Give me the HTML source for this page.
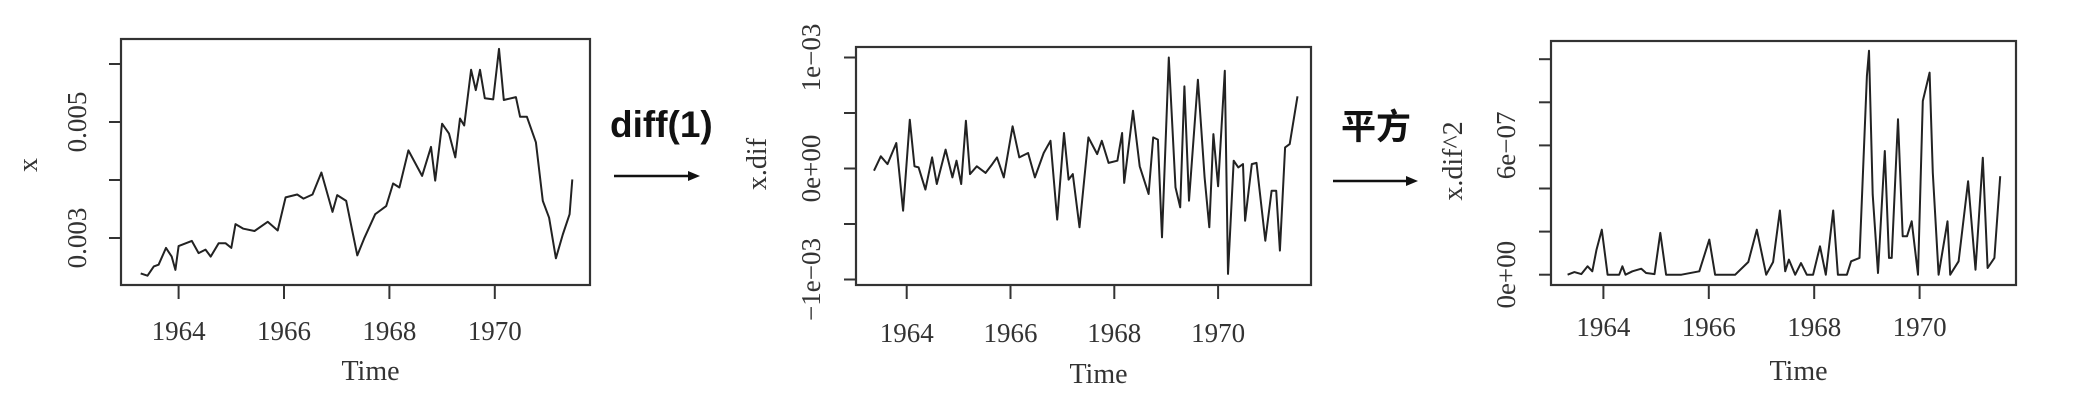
<!DOCTYPE html>
<html><head><meta charset="utf-8"><style>
html,body{margin:0;padding:0;background:#fff;}
svg{display:block;}
.tick{font-family:"Liberation Serif",serif;font-size:27px;fill:#333;}
.ttl{font-family:"Liberation Serif",serif;font-size:28px;fill:#333;}
</style></head><body>
<svg id="svg" width="2078" height="402" viewBox="0 0 2078 402">
<g>
<text x="610" y="137" font-family="'Liberation Sans',sans-serif" font-weight="bold" font-size="37" fill="#111">diff(1)</text>
<line x1="614" y1="176" x2="692" y2="176" stroke="#111" stroke-width="2.5"/>
<polygon points="700,176 688,171 688,181" fill="#111"/>
</g>
<g>
<text x="1341" y="139" font-family="'Liberation Sans','Noto Sans CJK SC',sans-serif" font-weight="bold" font-size="35" fill="#111">平方</text>
<line x1="1333" y1="181" x2="1410" y2="181" stroke="#111" stroke-width="2.5"/>
<polygon points="1418,181 1406,176 1406,186" fill="#111"/>
</g>
</svg>
<script>
// Panel 1: x series
const years1=[1963.28,1963.41,1963.53,1963.62,1963.76,1963.87,1963.94,1964.0,1964.25,1964.38,1964.51,1964.61,1964.76,1964.89,1965.0,1965.08,1965.23,1965.44,1965.69,1965.88,1966.03,1966.25,1966.37,1966.54,1966.71,1966.92,1967.01,1967.18,1967.39,1967.52,1967.73,1967.94,1968.07,1968.19,1968.36,1968.62,1968.79,1968.87,1969.0,1969.13,1969.25,1969.34,1969.42,1969.55,1969.64,1969.72,1969.81,1969.97,1970.08,1970.17,1970.40,1970.48,1970.61,1970.78,1970.91,1971.03,1971.16,1971.29,1971.42,1971.47];
const values1=[2.39,2.35,2.51,2.54,2.83,2.68,2.45,2.86,2.95,2.74,2.80,2.68,2.91,2.91,2.83,3.24,3.16,3.12,3.28,3.13,3.70,3.75,3.68,3.75,4.13,3.45,3.74,3.64,2.70,2.99,3.41,3.55,3.94,3.87,4.51,4.07,4.57,3.99,4.97,4.80,4.39,5.06,4.94,5.90,5.55,5.90,5.41,5.39,6.26,5.38,5.43,5.09,5.09,4.65,3.64,3.35,2.65,3.06,3.41,4.01]; // x 1e-3
const ticks1=[0.003,0.004,0.005,0.006];
const tickLabels1=["0.003","","0.005",""];
// Panel 2: x.dif
const years2=[1963.37,1963.50,1963.63,1963.80,1963.93,1964.06,1964.15,1964.23,1964.36,1964.49,1964.58,1964.75,1964.88,1964.96,1965.05,1965.14,1965.22,1965.35,1965.52,1965.65,1965.74,1965.87,1966.04,1966.17,1966.34,1966.47,1966.64,1966.77,1966.90,1967.03,1967.12,1967.20,1967.33,1967.50,1967.67,1967.76,1967.89,1968.06,1968.15,1968.19,1968.36,1968.49,1968.66,1968.75,1968.84,1968.92,1969.05,1969.18,1969.27,1969.35,1969.44,1969.61,1969.74,1969.83,1969.91,1970.00,1970.13,1970.19,1970.30,1970.39,1970.48,1970.52,1970.65,1970.74,1970.91,1971.03,1971.12,1971.19,1971.29,1971.38,1971.53];
const values2=[-0.02,0.11,0.04,0.23,-0.38,0.44,0.02,0.01,-0.19,0.10,-0.14,0.17,-0.08,0.07,-0.14,0.43,-0.05,0.02,-0.04,0.04,0.10,-0.08,0.38,0.10,0.14,-0.08,0.14,0.25,-0.46,0.32,-0.10,-0.05,-0.53,0.28,0.13,0.25,0.05,0.07,0.32,-0.13,0.52,0.02,-0.23,0.28,0.26,-0.62,1.00,-0.17,-0.35,0.74,-0.29,0.80,-0.08,-0.53,0.31,-0.16,0.88,-0.95,0.07,0.01,0.04,-0.47,0.04,0.05,-0.65,-0.20,-0.20,-0.74,0.19,0.22,0.65]; // x 1e-3
const ticks2=[-0.001,-0.0005,0,0.0005,0.001];
const tickLabels2=["\u22121e\u221203","","0e+00","","1e\u221203"];
// Panel 3: x.dif^2
const years3=[1963.32,1963.45,1963.58,1963.70,1963.79,1963.87,1963.97,1964.08,1964.30,1964.36,1964.42,1964.55,1964.72,1964.81,1964.97,1965.08,1965.19,1965.48,1965.82,1966.01,1966.12,1966.33,1966.50,1966.75,1966.91,1967.09,1967.22,1967.35,1967.45,1967.52,1967.64,1967.75,1967.86,1967.98,1968.11,1968.22,1968.36,1968.45,1968.62,1968.70,1968.86,1969.00,1969.04,1969.11,1969.21,1969.34,1969.42,1969.47,1969.59,1969.68,1969.76,1969.85,1969.97,1970.06,1970.19,1970.25,1970.36,1970.53,1970.58,1970.74,1970.92,1971.06,1971.20,1971.29,1971.42,1971.53];
const values3=[0,0.12,0.03,0.39,0.16,1.16,2.09,0,0,0.39,0,0.16,0.28,0.08,0.03,1.94,0,0,0.16,1.63,0,0,0,0.59,2.09,0,0.59,2.98,0.16,0.70,0,0.54,0,0,1.32,0,2.98,0,0,0.62,0.78,9.22,10.39,3.72,0.08,5.74,0.78,0.78,7.21,1.78,1.78,2.48,0,8.06,9.38,4.73,0,2.48,0,0.62,4.34,0.23,5.43,0.31,0.78,4.57]; // x 1e-7
const ticks3=[0,2e-7,4e-7,6e-7,8e-7,1e-6];
const tickLabels3=["0e+00","","","6e\u221207","",""];
const xTicks=[1964,1966,1968,1970];
const xTickLabels=["1964","1966","1968","1970"];

const NS="http://www.w3.org/2000/svg";
const svg=document.getElementById('svg');
function mk(tag,attrs,parent){const e=document.createElementNS(NS,tag);for(const k in attrs)e.setAttribute(k,attrs[k]);(parent||svg).appendChild(e);return e;}

function panel(cfg){
  const g=mk('g',{});
  
  
  const xs=y=>cfg.x0+(y-1964)*cfg.pxYear;
  const ys=v=>cfg.yZero-(v-cfg.vZero)*cfg.pxVal;
  const box=mk('rect',{x:cfg.L,y:cfg.T,width:cfg.R-cfg.L,height:cfg.B-cfg.T,fill:'none',stroke:'#333','stroke-width':2.2},g);
  
  
  xTicks.forEach((t,i)=>{
    const X=xs(t);
    const tl=mk('line',{x1:X,y1:cfg.B,x2:X,y2:cfg.B+14,stroke:'#333','stroke-width':2},g);
    
    
    const tx=mk('text',{x:X,y:cfg.tickY,'text-anchor':'middle',class:'tick'},g);
    tx.textContent=xTickLabels[i];
    
    
  });
  cfg.yt.forEach((t,i)=>{
    const Y=ys(t);
    const tl=mk('line',{x1:cfg.L-12,y1:Y,x2:cfg.L,y2:Y,stroke:'#333','stroke-width':2},g);
    
    
    if(cfg.ytl[i]){
      const tx=mk('text',{x:cfg.yLabX,y:Y,'text-anchor':'middle',class:'tick',transform:`rotate(-90 ${cfg.yLabX} ${Y})`},g);
      tx.textContent=cfg.ytl[i];
      
      
    }
  });
  const t=mk('text',{x:(cfg.L+cfg.R)/2+15,y:cfg.titleY,'text-anchor':'middle',class:'ttl'},g);
  t.textContent='Time';
  
  
  const yt=mk('text',{x:cfg.yTitleX,y:cfg.yTitleY,'text-anchor':'middle',class:'ttl',transform:`rotate(-90 ${cfg.yTitleX} ${cfg.yTitleY})`},g);
  yt.textContent=cfg.yTitle;
  
  
  const pts=cfg.years.map((yr,i)=>xs(yr).toFixed(1)+','+ys(cfg.vals[i]*cfg.scale).toFixed(1)).join(' ');
  const pl=mk('polyline',{points:pts,fill:'none',stroke:'#222','stroke-width':2,'stroke-linejoin':'round'},g);
  
  
}
panel({name:'x-series-panel',L:121,R:590,T:39,B:285,x0:178.6,pxYear:52.7,yZero:238,vZero:0.003,pxVal:58000,
  yt:ticks1,ytl:tickLabels1,yLabX:86,tickY:340,titleY:380,yTitle:'x',yTitleX:37,yTitleY:165,years:years1,vals:values1,scale:1e-3});
panel({name:'x-dif-panel',L:856,R:1311,T:47,B:285,x0:906.7,pxYear:51.9,yZero:168.5,vZero:0,pxVal:111000,
  yt:ticks2,ytl:tickLabels2,yLabX:820,tickY:342,titleY:383,yTitle:'x.dif',yTitleX:766,yTitleY:164,years:years2,vals:values2,scale:1e-3});
panel({name:'x-dif-squared-panel',L:1551,R:2016,T:41,B:285,x0:1603.4,pxYear:52.7,yZero:274.7,vZero:0,pxVal:215500000,
  yt:ticks3,ytl:tickLabels3,yLabX:1515,tickY:336,titleY:380,yTitle:'x.dif^2',yTitleX:1462,yTitleY:161,years:years3,vals:values3,scale:1e-7});
</script>
</body></html>
